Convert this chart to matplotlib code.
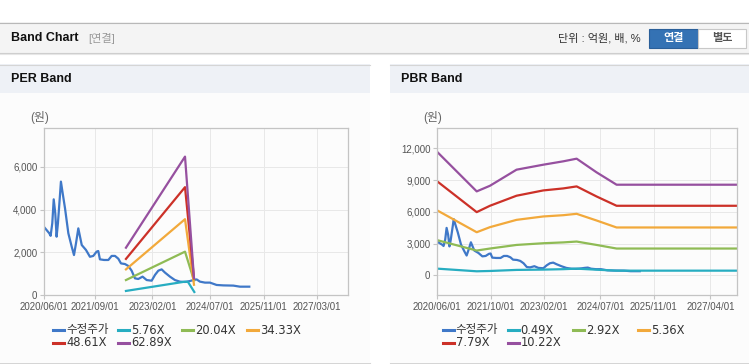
import numpy as np
import pandas as pd
import matplotlib
matplotlib.use('Agg')
import matplotlib.pyplot as plt
from matplotlib.patches import Rectangle
from matplotlib.lines import Line2D
from matplotlib.transforms import Affine2D
from matplotlib.ticker import FuncFormatter

# ---- data ----
price_dates = ['2020-06-01', '2020-07-16', '2020-07-28', '2020-08-12', '2020-08-25', '2020-09-08',
               '2020-09-20', '2020-10-02', '2020-10-20', '2020-10-29', '2020-11-14', '2020-12-05',
               '2021-01-04', '2021-02-03', '2021-02-24', '2021-03-14', '2021-04-04', '2021-05-05',
               '2021-06-12', '2021-07-18', '2021-08-17', '2021-09-16', '2021-10-01', '2021-10-16',
               '2021-11-22', '2021-12-31', '2022-01-30', '2022-03-01', '2022-03-31', '2022-04-24',
               '2022-05-30', '2022-06-29', '2022-07-29', '2022-08-28', '2022-09-27', '2022-11-05',
               '2022-12-12', '2023-01-26', '2023-02-25', '2023-03-27', '2023-04-26', '2023-05-26',
               '2023-07-10', '2023-08-24', '2023-10-08', '2023-11-23', '2024-01-07', '2024-02-06',
               '2024-03-07', '2024-04-06', '2024-05-21', '2024-07-05', '2024-09-03', '2024-11-03',
               '2025-02-01', '2025-04-02', '2025-06-25']
price = [3170, 2890, 2770, 3360, 4480, 3830,
         2730, 3360, 4640, 5310, 4760, 4060,
         2890, 2270, 1870, 2420, 3120, 2340,
         2110, 1790, 1830, 2030, 2060, 1670,
         1640, 1640, 1830, 1830, 1700, 1480,
         1450, 1360, 1140, 780, 750, 860,
         700, 670, 940, 1140, 1200, 1050,
         860, 700, 625, 610, 655, 700,
         730, 625, 580, 580, 470, 450,
         440, 390, 390]

per_labels = ['5.76X', '20.04X', '34.33X', '48.61X', '62.89X']
per_dates = [
    ['2022-06-08', '2023-11-23', '2023-12-20', '2024-02-15'],
    ['2022-06-08', '2023-11-23', '2024-02-12'],
    ['2022-06-08', '2023-11-23', '2024-02-12'],
    ['2022-06-08', '2023-11-23', '2024-02-12'],
    ['2022-06-08', '2023-11-23', '2024-02-12'],
]
per_bands = [
    [190, 625, 610, 140],
    [700, 2030, 680],
    [1200, 3550, 480],
    [1690, 5050, 780],
    [2215, 6480, 800],
]

pbr_labels = ['0.49X', '2.92X', '5.36X', '7.79X', '10.22X']
pbr_dates = ['2020-06-01', '2021-05-27', '2021-09-25', '2022-05-26', '2023-01-25',
             '2023-07-27', '2023-11-26', '2024-05-26', '2024-11-25', '2027-12-03']
pbr_bands = [
    [630, 380, 410, 510, 540, 580, 630, 530, 440, 440],
    [3320, 2340, 2530, 2870, 3030, 3110, 3190, 2870, 2530, 2530],
    [6130, 4070, 4550, 5240, 5560, 5680, 5810, 5180, 4520, 4520],
    [8870, 5970, 6570, 7520, 8020, 8210, 8400, 7450, 6570, 6570],
    [11650, 7930, 8460, 9980, 10450, 10770, 11020, 9730, 8560, 8560],
]

per_ticks = ['2020/06/01', '2021/09/01', '2023/02/01', '2024/07/01', '2025/11/01', '2027/03/01']
pbr_ticks = ['2020/06/01', '2021/10/01', '2023/02/01', '2024/07/01', '2025/11/01', '2027/04/01']

price_color = '#3f78c8'
band_colors = ['#27adc1', '#8fbb55', '#f2a93b', '#cc3128', '#96509f']

KR = ['Liberation Sans', 'Noto Sans CJK KR']
LEG = ['DejaVu Sans', 'Noto Sans CJK KR']

# ---- figure in pixel coordinates ----
W, H = 749, 364
fig = plt.figure(figsize=(W / 100, H / 100), dpi=100)
fig.patch.set_facecolor('white')
px = Affine2D().scale(1 / W, -1 / H).translate(0, 1) + fig.transFigure


def box(x0, y0, x1, y1, fc, ec='none', lw=0):
    fig.add_artist(Rectangle((x0, y0), x1 - x0, y1 - y0, transform=px, facecolor=fc,
                             edgecolor=ec, linewidth=lw, zorder=-5))


def hline(x0, x1, y, color):
    fig.add_artist(Line2D([x0, x1], [y, y], transform=px, color=color, linewidth=0.8, zorder=-4))


def text(x, y, s, **kw):
    kw.setdefault('va', 'center')
    kw.setdefault('family', KR)
    fig.text(x, y, s, transform=px, **kw)


# top header
box(0, 22, W, 53, '#f4f4f4')
hline(0, W, 22.5, '#b8b8b8')
hline(0, W, 53, '#cdcdcd')
hline(0, W, 54, '#e6e6e6')
text(11, 38, 'Band Chart', fontsize=9, fontweight='bold', color='#111111')
text(88, 38, '[연결]', fontsize=8, color='#999999')
text(641, 38, '단위 : 억원, 배, %', fontsize=8, color='#333333', ha='right')
box(649, 29, 698, 48, '#3472b4', ec='#2a5f99', lw=0.8)
text(673.5, 38.5, '연결', fontsize=8, fontweight='bold', color='white', ha='center')
box(698, 29, 746, 48, 'white', ec='#c8c8c8', lw=0.8)
text(722, 38.5, '별도', fontsize=8, fontweight='bold', color='#555555', ha='center')

# panels
for x0, x1, title in [(0, 370, 'PER Band'), (390, W, 'PBR Band')]:
    box(x0, 64, x1, 362, '#fcfcfc')
    box(x0, 64, x1, 93, '#eef1f6')
    hline(x0, x1, 64.5, '#d5d5d5')
    hline(x0, x1, 362.5, '#d5d5d5')
    text(x0 + 11, 79.5, title, fontsize=9, fontweight='bold', color='#111111')


def make_axes(x0, y0, x1, y1):
    ax = fig.add_axes([x0 / W, 1 - y1 / H, (x1 - x0) / W, (y1 - y0) / H])
    ax.set_facecolor('none')
    for s in ax.spines.values():
        s.set_color('#c4c4c4')
        s.set_linewidth(0.9)
    ax.grid(True, color='#e8e8e8', linewidth=0.7)
    ax.set_axisbelow(True)
    ax.tick_params(length=3, color='#c4c4c4', labelsize=7, labelcolor='#555555', pad=2)
    ax.yaxis.set_major_formatter(FuncFormatter(lambda v, p: f'{int(v):,}'))
    ax.set_xlim(pd.Timestamp('2020-06-01'), pd.Timestamp('2027-12-03'))
    return ax


def legend(x_rows, labels, colors):
    for (lx, ly), lab, col in zip(x_rows, labels, colors):
        fig.add_artist(Line2D([lx, lx + 11], [ly, ly], transform=px, color=col, linewidth=2.2))
        text(lx + 13, ly, lab, fontsize=8.3, color='#333333', family=LEG)


pd_price = pd.to_datetime(price_dates)

# PER chart
ax1 = make_axes(44.3, 128, 348, 295)
ax1.plot(pd_price, price, color=price_color, linewidth=1.6)
for dts, vals, col in zip(per_dates, per_bands, band_colors):
    ax1.plot(pd.to_datetime(dts), vals, color=col, linewidth=1.6)
ax1.set_ylim(0, 7820)
ax1.set_yticks([0, 2000, 4000, 6000])
ax1.set_xticks(pd.to_datetime([t.replace('/', '-') for t in per_ticks]))
ax1.set_xticklabels(per_ticks)
text(40, 118, '(원)', fontsize=8.5, color='#666666', ha='center')

# PBR chart
ax2 = make_axes(437.3, 128.3, 737.3, 295)
ax2.plot(pd_price, price, color=price_color, linewidth=1.6)
for vals, col in zip(pbr_bands, band_colors):
    ax2.plot(pd.to_datetime(pbr_dates), vals, color=col, linewidth=1.6)
ax2.set_ylim(-1860, 13890)
ax2.set_yticks([0, 3000, 6000, 9000, 12000])
ax2.set_xticks(pd.to_datetime([t.replace('/', '-') for t in pbr_ticks]))
ax2.set_xticklabels(pbr_ticks)
text(432.5, 118, '(원)', fontsize=8.5, color='#666666', ha='center')

for ax in (ax1, ax2):
    for lab in ax.get_xticklabels() + ax.get_yticklabels():
        lab.set_family('Liberation Sans')

# legends
legend([(53, 330), (118, 330), (182, 330), (247, 330), (53, 343), (118, 343)],
       ['수정주가'] + per_labels, [price_color] + band_colors)
legend([(442.7, 330), (507.7, 330), (572.7, 330), (637.7, 330), (442.7, 343), (507.7, 343)],
       ['수정주가'] + pbr_labels, [price_color] + band_colors)

fig.savefig('out.png', dpi=100)
